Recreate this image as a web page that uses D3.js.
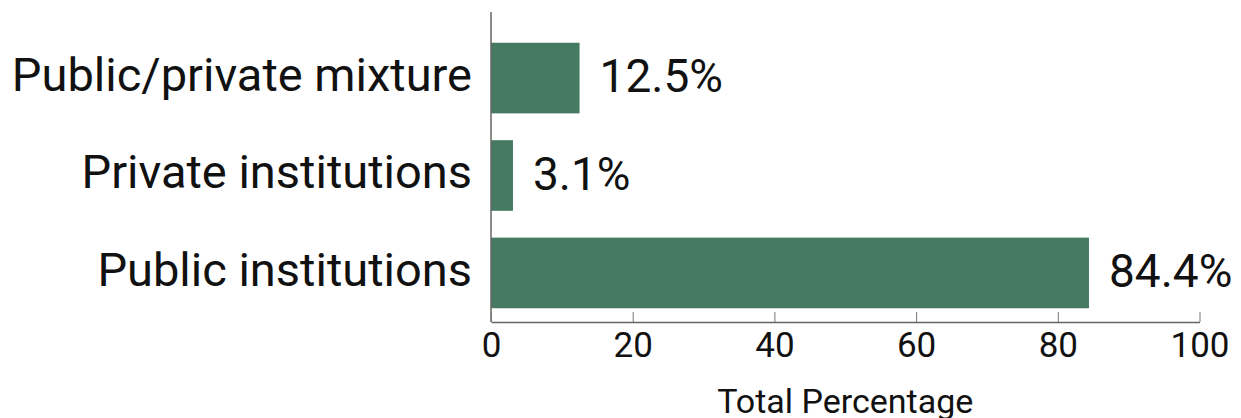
<!DOCTYPE html>
<html>
<head>
<meta charset="utf-8">
<script src="https://cdn.jsdelivr.net/npm/d3@7"></script>
<style>
  html, body { margin: 0; padding: 0; background: #fff; }
  svg { display: block; font-family: Roboto, "Noto Sans", sans-serif; }
</style>
</head>
<body>
<svg id="chart" width="1241" height="418"></svg>
<script>
// Share of institutions by type (percent of total)
const categories = ["Public/private mixture", "Private institutions", "Public institutions"];
const values = [12.5, 3.1, 84.4];
const xTicks = [0, 20, 40, 60, 80, 100];
const axisTitle = "Total Percentage";

const svg = d3.select("#chart");
const barColor = "#457b62";

const x = d3.scaleLinear().domain([0, 100]).range([491, 1199.5]);
const y = d3.scaleBand().domain(categories).range([33, 318])
  .paddingInner(0.275).paddingOuter(0.1);

const axisY = 322;

// bars
svg.append("g").selectAll("rect")
  .data(categories)
  .join("rect")
  .attr("x", x(0))
  .attr("y", d => y(d))
  .attr("width", (d, i) => x(values[i]) - x(0))
  .attr("height", y.bandwidth())
  .attr("fill", barColor);

// value labels
svg.append("g").selectAll("text")
  .data(categories)
  .join("text")
  .attr("x", (d, i) => x(values[i]) + 20)
  .attr("y", d => y(d) + y.bandwidth() / 2)
  .attr("dy", "0.31em")
  .attr("font-size", 46)
  .attr("fill", "#111")
  .text((d, i) => values[i].toFixed(1) + "%");

// category axis
const yAxis = svg.append("g")
  .attr("transform", `translate(${x(0)},0)`)
  .call(d3.axisLeft(y).tickSize(0).tickPadding(19));
yAxis.select(".domain").remove();
yAxis.selectAll("text")
  .attr("font-size", 47)
  .attr("font-family", "Roboto, sans-serif")
  .attr("fill", "#111")
  .attr("dy", "0.27em");
svg.append("line")
  .attr("x1", x(0)).attr("x2", x(0))
  .attr("y1", 12).attr("y2", axisY)
  .attr("stroke", "#666").attr("stroke-width", 1.5);

// value axis with inward ticks
const xAxis = svg.append("g")
  .attr("transform", `translate(0,${axisY})`)
  .call(d3.axisBottom(x).tickValues(xTicks).tickSize(0).tickPadding(10));
xAxis.select(".domain").attr("stroke", "#666").attr("stroke-width", 1.5);
xAxis.selectAll(".tick line")
  .attr("y2", -10)
  .attr("stroke", "#777")
  .attr("stroke-width", 1);
xAxis.selectAll("text")
  .attr("font-size", 35)
  .attr("font-family", "Roboto, sans-serif")
  .attr("fill", "#111");

// axis title
svg.append("text")
  .attr("x", (x(0) + x(100)) / 2)
  .attr("y", 413)
  .attr("text-anchor", "middle")
  .attr("font-size", 34)
  .attr("fill", "#111")
  .text(axisTitle);
</script>
</body>
</html>
